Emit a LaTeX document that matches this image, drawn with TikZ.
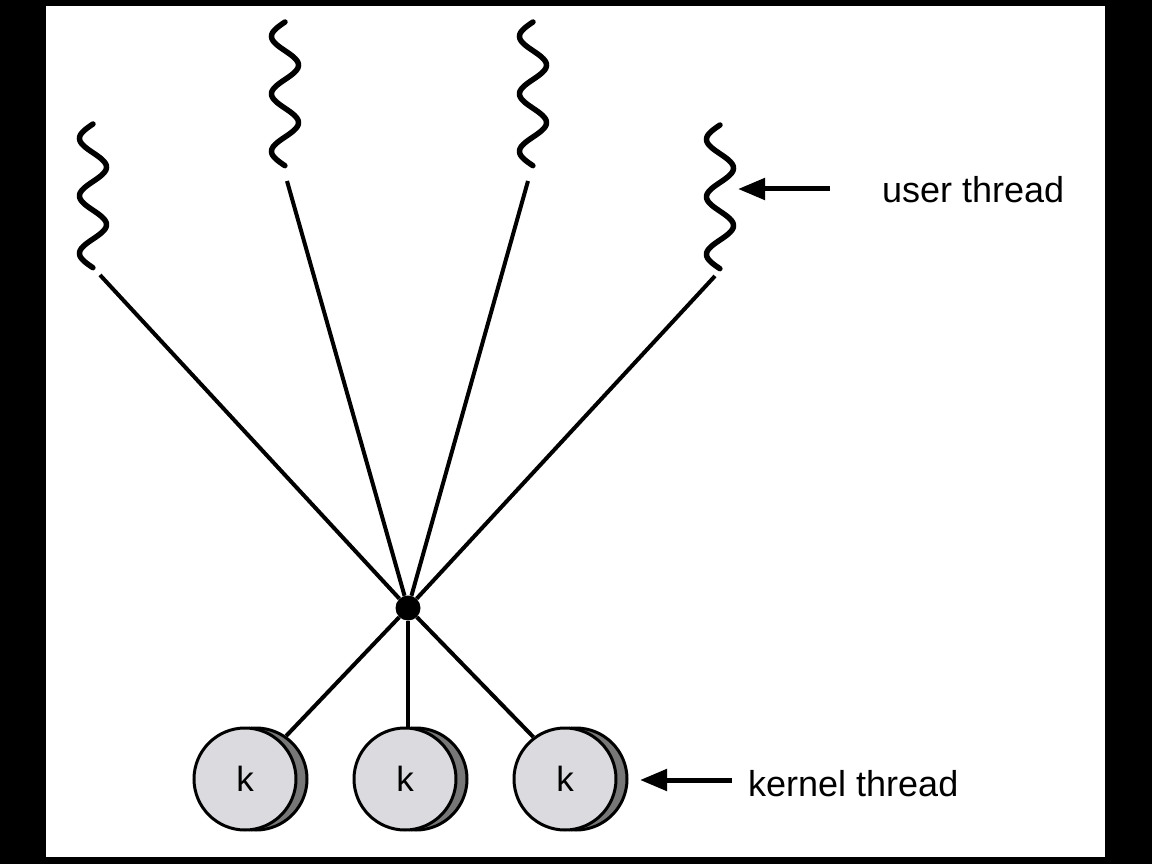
\documentclass[tikz,border=0pt]{standalone}
\usepackage{fontspec}
\setmainfont{Liberation Sans}
\usetikzlibrary{arrows.meta}
\definecolor{kfill}{RGB}{219,218,223}
\definecolor{kback}{RGB}{119,119,119}
\begin{document}
\begin{tikzpicture}[x=1pt,y=-1pt,
  wave/.style={line width=5.5pt, line cap=round},
  conn/.style={line width=4pt},
  pointer/.style={line width=5pt, -{Triangle[length=27pt,width=21pt]}},
  kfront/.style={circle, draw, line width=3pt, fill=kfill, minimum size=102pt, inner sep=0pt, font=\fontsize{35}{40}\selectfont},
  kbackst/.style={circle, draw, line width=3pt, fill=kback, minimum size=102pt, inner sep=0pt},
  label/.style={anchor=base west, inner sep=0pt, font=\fontsize{36}{40}\selectfont}]
\fill[black] (0,0) rectangle (1152,864);
\fill[white] (46,6) rectangle (1105,857);
\useasboundingbox (0,0) rectangle (1152,864);

% user threads (wavy lines)
\foreach \cx/\ty in {93/124, 285/22, 533/22, 720/125}
  \draw[wave] plot[variable=\t, domain=0:2.5, samples=150, smooth]
    ({\cx-13.5*sin(\t*360)},{\ty+\t*57.5});

\coordinate (u1) at (100,275);
\coordinate (u2) at (287,181);
\coordinate (u3) at (528,181);
\coordinate (u4) at (715,276);

\node[circle, fill=black, inner sep=0pt, minimum size=25pt] (j) at (408,608) {};

% kernel threads
\node[kbackst] (b1) at (256,779) {};
\node[kbackst] (b2) at (416,779) {};
\node[kbackst] (b3) at (576,779) {};
\node[kfront] (k1) at (245,779) {k};
\node[kfront] (k2) at (405,779) {k};
\node[kfront] (k3) at (565,779) {k};

% connectors
\foreach \u in {u1,u2,u3,u4} \draw[conn] (\u) -- (j);
\draw[conn] (j) -- (b1.55);
\draw[conn] (j) -- (j |- k2.north);
\draw[conn] (j) -- (k3.127);

% labels and pointers
\node[label] (ul) at (882,203) {user thread};
\node[label] (kl) at (748,796) {kernel thread};
\coordinate (ua) at (830,189);
\coordinate (uat) at (738,189);
\coordinate (ka) at (732,780);
\coordinate (kat) at (640,780);
\draw[pointer] (ua) -- (uat);
\draw[pointer] (ka) -- (kat);
\end{tikzpicture}
\end{document}
